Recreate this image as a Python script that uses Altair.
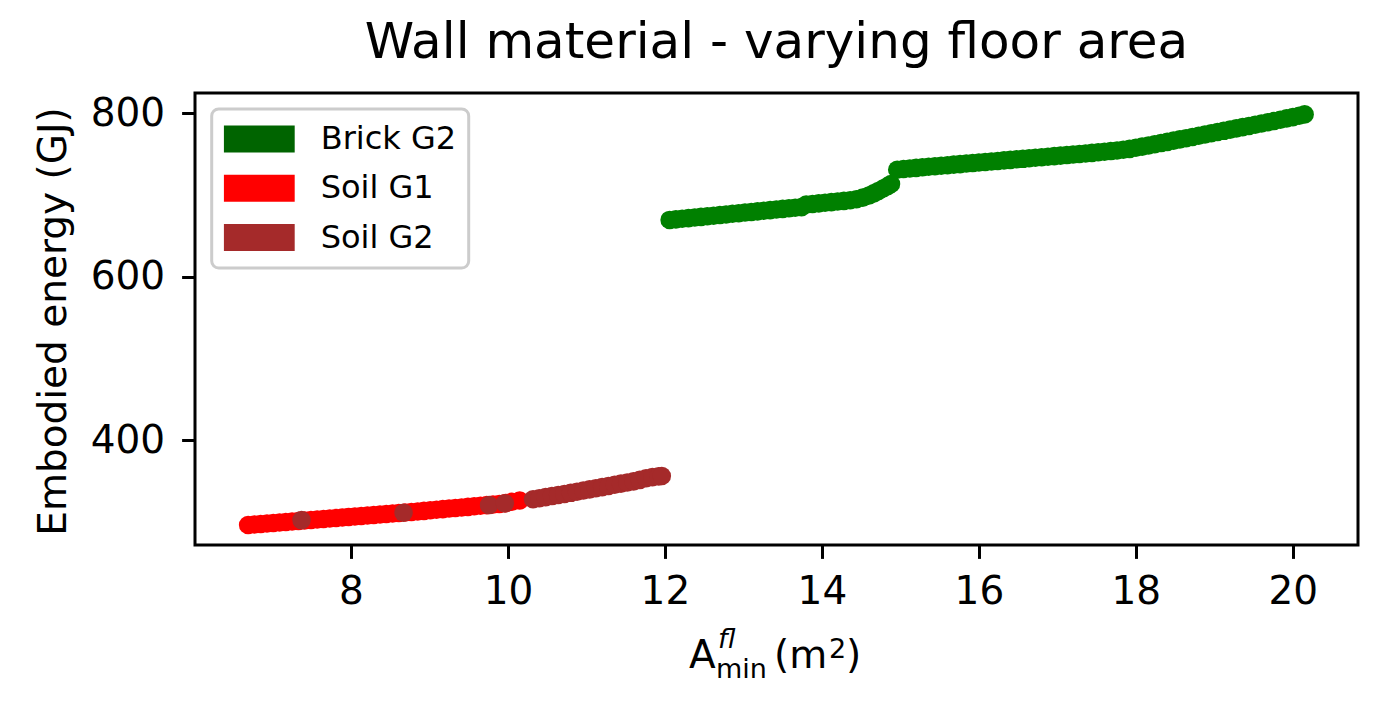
import altair as alt
import pandas as pd

# ---- data ----
brick_g2_x = [12.06, 12.14, 12.22, 12.30, 12.38, 12.46, 12.54, 12.62, 12.70, 12.78, 12.86, 12.94,
              13.02, 13.10, 13.18, 13.26, 13.34, 13.42, 13.50, 13.58, 13.66, 13.74,
              13.80, 13.88, 13.96, 14.04, 14.12, 14.20, 14.28, 14.36, 14.44, 14.52, 14.60,
              14.66, 14.72, 14.78, 14.84, 14.88,
              14.96, 15.04, 15.12, 15.20, 15.28, 15.36, 15.44, 15.52, 15.60, 15.68, 15.76,
              15.84, 15.92, 16.00, 16.08, 16.16, 16.24, 16.32, 16.40, 16.48, 16.56, 16.64,
              16.72, 16.80, 16.88, 16.96, 17.04, 17.12, 17.20, 17.28, 17.36, 17.44, 17.52,
              17.60, 17.68, 17.76, 17.84, 17.92, 18.00, 18.08, 18.16, 18.24, 18.32, 18.40,
              18.48, 18.56, 18.64, 18.72, 18.80, 18.88, 18.96, 19.04, 19.12, 19.20, 19.28,
              19.36, 19.44, 19.52, 19.60, 19.68, 19.76, 19.84, 19.92, 20.00, 20.08, 20.15]
brick_g2_y = [669.5, 670.2, 671.0, 671.7, 672.5, 673.2, 674.0, 674.7, 675.5, 676.2, 677.0, 677.7,
              678.5, 679.2, 680.0, 680.7, 681.5, 682.2, 683.0, 683.7, 684.5, 685.2,
              688.3, 689.0, 689.8, 690.5, 691.3, 692.0, 692.8, 693.6, 694.8, 696.8, 699.5,
              702.0, 705.0, 708.0, 711.0, 713.5,
              731.0, 731.8, 732.5, 733.2, 733.9, 734.6, 735.2, 735.9, 736.5, 737.2, 737.8,
              738.5, 739.1, 739.8, 740.4, 741.1, 741.7, 742.4, 743.0, 743.7, 744.3, 745.0,
              745.6, 746.3, 746.9, 747.6, 748.2, 748.9, 749.5, 750.2, 750.9, 751.6, 752.3,
              753.0, 753.8, 754.6, 755.5, 756.5, 757.8, 759.2, 760.6, 762.1, 763.6, 765.1,
              766.6, 768.1, 769.6, 771.1, 772.6, 774.1, 775.6, 777.1, 778.6, 780.1, 781.6,
              783.1, 784.6, 786.1, 787.6, 789.1, 790.6, 792.2, 793.8, 795.4, 797.0, 798.7]

soil_g1_x = [6.69, 6.77, 6.85, 6.93, 7.01, 7.09, 7.17, 7.25, 7.33, 7.41, 7.49, 7.57, 7.65, 7.73,
             7.81, 7.89, 7.97, 8.05, 8.13, 8.21, 8.29, 8.37, 8.45, 8.53, 8.61, 8.69, 8.77, 8.85,
             8.93, 9.01, 9.09, 9.17, 9.25, 9.33, 9.41, 9.49, 9.57, 9.65, 9.73, 9.81, 9.89, 9.97,
             10.05, 10.15]
soil_g1_y = [296.0, 296.7, 297.3, 297.9, 298.5, 299.1, 299.7, 300.3, 300.9, 301.6, 302.2, 302.8,
             303.4, 304.0, 304.6, 305.2, 305.8, 306.4, 307.0, 307.6, 308.2, 308.8, 309.5, 310.1,
             310.7, 311.3, 312.0, 312.6, 313.3, 314.0, 314.7, 315.4, 316.1, 316.8, 317.5, 318.2,
             318.9, 319.6, 320.3, 321.0, 321.8, 322.8, 324.4, 326.0]

soil_g2_x = [7.37, 8.67, 9.76, 9.96, 10.32, 10.40, 10.48, 10.56, 10.64, 10.72, 10.80, 10.88,
             10.96, 11.04, 11.12, 11.20, 11.28, 11.36, 11.44, 11.52, 11.60, 11.68, 11.76, 11.84,
             11.92, 11.96]
soil_g2_y = [302.0, 311.0, 320.4, 322.5, 327.5, 328.8, 330.1, 331.4, 332.7, 334.0, 335.4, 336.8,
             338.2, 339.6, 341.0, 342.4, 343.8, 345.2, 346.6, 348.0, 349.4, 351.2, 353.2, 354.6,
             355.5, 356.0]

series_names = ["Brick G2", "Soil G1", "Soil G2"]
point_colors = ["green", "red", "brown"]
legend_colors = ["darkgreen", "red", "brown"]

x_ticks = [8, 10, 12, 14, 16, 18, 20]
y_ticks = [400, 600, 800]

title_text = ["Wall material - varying floor area"]
y_title = "Embodied energy (GJ)"
x_title_main = ["A"]
x_title_sup = ["fl"]
x_title_sub = ["min"]
x_title_open = ["(m"]
x_title_pow = ["2"]
x_title_close = [")"]

# ---- layout ----
W, H = 1163, 452
FONT = "DejaVu Sans"
x_scale = alt.Scale(domain=[6.013, 20.83], nice=False, zero=False)
y_scale = alt.Scale(domain=[271.5, 824.9], nice=False, zero=False)

x_axis = alt.Axis(values=x_ticks, title=None, grid=False, domain=False,
                  tickSize=13.4, tickWidth=3, tickColor="black",
                  labelFont=FONT, labelFontSize=39, labelColor="black",
                  labelPadding=14, labelFlush=False, labelOverlap=False)
y_axis = alt.Axis(values=y_ticks, title=y_title, grid=False, domain=False,
                  tickSize=13.4, tickWidth=3, tickColor="black",
                  labelFont=FONT, labelFontSize=39, labelColor="black",
                  labelPadding=17, labelOverlap=False,
                  titleFont=FONT, titleFontSize=39, titleFontWeight="normal",
                  titleColor="black", titleAngle=270, titleX=-130, titleY=228,
                  titleAlign="center", titleBaseline="alphabetic")


def points(xv, yv, color):
    df = pd.DataFrame({"x": xv, "y": yv})
    return alt.Chart(df).mark_circle(size=345, opacity=1, color=color).encode(
        x=alt.X("x:Q", scale=x_scale, axis=x_axis),
        y=alt.Y("y:Q", scale=y_scale, axis=y_axis),
    )


brick = points(brick_g2_x, brick_g2_y, point_colors[0])
soil1 = points(soil_g1_x, soil_g1_y, point_colors[1])
soil2 = points(soil_g2_x, soil_g2_y, point_colors[2])

legend_layer = alt.Chart(pd.DataFrame({"series": series_names})).mark_square(opacity=0).encode(
    x=alt.value(0), y=alt.value(0),
    color=alt.Color("series:N",
                    scale=alt.Scale(domain=series_names, range=legend_colors),
                    legend=alt.Legend(title=None, orient="none", legendX=16.7, legendY=16,
                                      symbolType="M-1,-0.38H1V0.38H-1Z", symbolSize=5041,
                                      symbolStrokeWidth=0, symbolOpacity=1,
                                      labelFont=FONT, labelFontSize=32, labelColor="black",
                                      labelOffset=26, clipHeight=36, rowPadding=13.3,
                                      padding=12, strokeColor="#cccccc",
                                      fillColor="rgba(255,255,255,0.8)", cornerRadius=7)),
)


def label(texts, x, y, size, style="normal", align="left"):
    return alt.Chart(pd.DataFrame({"t": texts})).mark_text(
        align=align, baseline="alphabetic", font=FONT, fontSize=size,
        fontStyle=style, color="black").encode(
        x=alt.value(x), y=alt.value(y), text="t:N")


title_mark = label(title_text, W / 2, -35, 50, align="center")
xt_a = label(x_title_main, 494, 575.3, 39)
xt_sup = label(x_title_sup, 523, 554.5, 27, "italic")
xt_sub = label(x_title_sub, 521, 584.5, 27)
xt_open = label(x_title_open, 579, 575.3, 39)
xt_pow = label(x_title_pow, 634, 564.5, 27)
xt_close = label(x_title_close, 651, 575.3, 39)

chart = alt.layer(brick, soil1, soil2, legend_layer, title_mark,
                  xt_a, xt_sup, xt_sub, xt_open, xt_pow, xt_close).properties(
    width=W, height=H,
    autosize=alt.AutoSizeParams(type="none"),
    padding={"left": 187, "top": 85, "right": 10, "bottom": 150},
).configure_view(stroke="black", strokeWidth=3).configure_legend(strokeWidth=3)

chart.save("out.html", embed_options={"renderer": "svg", "actions": False})
